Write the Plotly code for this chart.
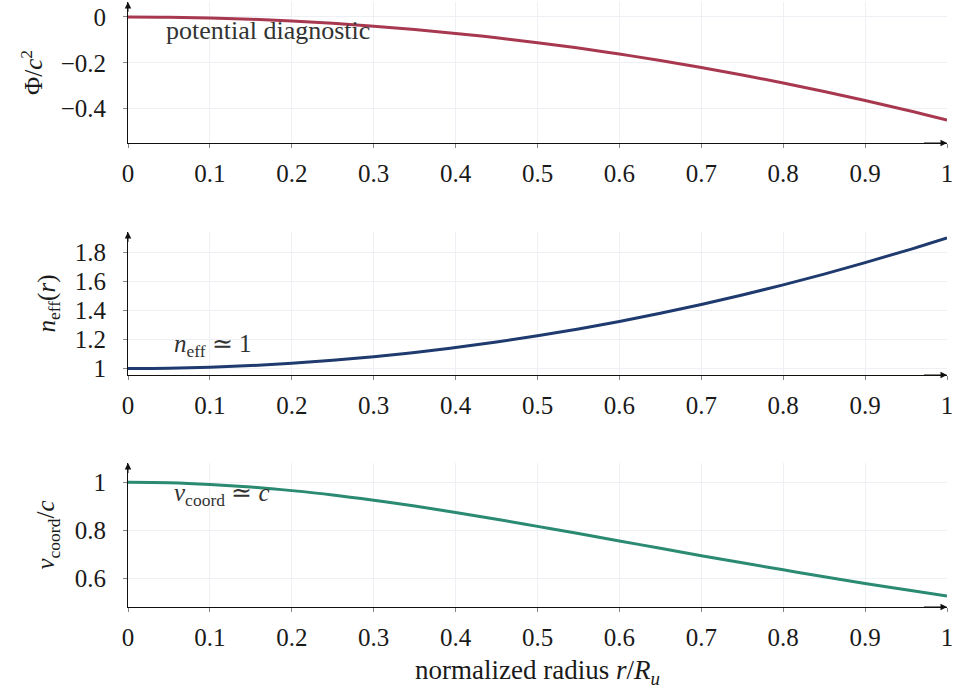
import plotly.graph_objects as go
from plotly.subplots import make_subplots

r = [0, 0.05, 0.1, 0.15, 0.2, 0.25, 0.3, 0.35, 0.4, 0.45, 0.5,
     0.55, 0.6, 0.65, 0.7, 0.75, 0.8, 0.85, 0.9, 0.95, 1.0]
phi = [0, -0.001, -0.0045, -0.010, -0.018, -0.028, -0.0405, -0.055, -0.072, -0.091, -0.1125,
       -0.136, -0.162, -0.190, -0.2205, -0.253, -0.288, -0.325, -0.3645, -0.406, -0.45]
n_eff = [1.0, 1.002, 1.009, 1.020, 1.036, 1.056, 1.081, 1.110, 1.144, 1.182, 1.225,
         1.272, 1.324, 1.380, 1.441, 1.506, 1.576, 1.650, 1.729, 1.812, 1.900]
v_coord = [1.0, 0.998, 0.991, 0.980, 0.965, 0.947, 0.925, 0.901, 0.874, 0.846, 0.816,
           0.786, 0.755, 0.725, 0.694, 0.664, 0.635, 0.606, 0.578, 0.552, 0.526]

x_ticks = [0, 0.1, 0.2, 0.3, 0.4, 0.5, 0.6, 0.7, 0.8, 0.9, 1]
x_ticktext = ["0", "0.1", "0.2", "0.3", "0.4", "0.5", "0.6", "0.7", "0.8", "0.9", "1"]
phi_ticks = [0, -0.2, -0.4]
phi_ticktext = ["0", "\u22120.2", "\u22120.4"]
n_ticks = [1, 1.2, 1.4, 1.6, 1.8]
n_ticktext = ["1", "1.2", "1.4", "1.6", "1.8"]
v_ticks = [0.6, 0.8, 1]
v_ticktext = ["0.6", "0.8", "1"]

FONT = "Liberation Serif"
GRID = "#eef0f5"
TXT = "#1a1a1a"

fig = make_subplots(rows=3, cols=1)
fig.add_trace(go.Scatter(x=r, y=phi, mode="lines", line=dict(color="#a8384f", width=3, shape="spline")), row=1, col=1)
fig.add_trace(go.Scatter(x=r, y=n_eff, mode="lines", line=dict(color="#1f3a6e", width=3, shape="spline")), row=2, col=1)
fig.add_trace(go.Scatter(x=r, y=v_coord, mode="lines", line=dict(color="#2a8a72", width=3, shape="spline")), row=3, col=1)

ranges = [[-0.55, 0.065], [0.955, 1.94], [0.48, 1.08]]
domains = [[0.7644, 0.9967], [0.3822, 0.6178], [0.0, 0.2372]]
yticks = [(phi_ticks, phi_ticktext), (n_ticks, n_ticktext), (v_ticks, v_ticktext)]
ytitles = ["\u03a6/<i>c</i><sup>2</sup>", "<i>n</i><sub>eff</sub>(<i>r</i>)", "<i>v</i><sub>coord</sub>/<i>c</i>"]
ystandoff = [10, 12, 12]

for i in range(3):
    xa = "xaxis" if i == 0 else f"xaxis{i+1}"
    ya = "yaxis" if i == 0 else f"yaxis{i+1}"
    fig.layout[xa].update(range=[0, 1], tickvals=x_ticks, ticktext=x_ticktext, automargin=False,
                          showgrid=True, gridcolor=GRID, gridwidth=1,
                          showline=True, linecolor="#111", linewidth=1,
                          ticks="outside", ticklen=4, tickcolor="#888", ticklabelstandoff=4,
                          zeroline=False, tickfont=dict(family=FONT, size=25, color=TXT))
    fig.layout[ya].update(range=ranges[i], domain=domains[i], automargin=False,
                          tickvals=yticks[i][0], ticktext=yticks[i][1],
                          showgrid=True, gridcolor=GRID, gridwidth=1,
                          showline=True, linecolor="#111", linewidth=1,
                          ticks="outside", ticklen=4, tickcolor="#888", ticklabelstandoff=12,
                          zeroline=False, tickfont=dict(family=FONT, size=25, color=TXT),
                          title=dict(text=ytitles[i], font=dict(family=FONT, size=25, color=TXT), standoff=ystandoff[i]))
    xr = "x" if i == 0 else f"x{i+1}"
    yr = "y" if i == 0 else f"y{i+1}"
    y0, y1 = ranges[i]
    fig.add_annotation(x=1, y=y0, xref=xr, yref=yr, ax=0.97, ay=y0, axref=xr, ayref=yr,
                       showarrow=True, arrowhead=2, arrowsize=1.3, arrowwidth=1, arrowcolor="#111", text="")
    dy = (y1 - y0) * 0.08
    fig.add_annotation(x=0, y=y1, xref=xr, yref=yr, ax=0, ay=y1 - dy, axref=xr, ayref=yr,
                       showarrow=True, arrowhead=2, arrowsize=1.3, arrowwidth=1, arrowcolor="#111", text="")

fig.layout.xaxis3.title = dict(text="normalized radius <i>r</i>/<i>R<sub>u</sub></i>",
                               font=dict(family=FONT, size=27, color=TXT), standoff=10)

fig.add_annotation(x=0.044, y=-0.06, xref="x", yref="y", text="potential diagnostic",
                   showarrow=False, xanchor="left", font=dict(family=FONT, size=26, color="#333"))
fig.add_annotation(x=0.054, y=1.16, xref="x2", yref="y2", text="<i>n</i><sub>eff</sub> \u2243 1",
                   showarrow=False, xanchor="left", font=dict(family=FONT, size=25, color="#333"))
fig.add_annotation(x=0.054, y=0.95, xref="x3", yref="y3", text="<i>v</i><sub>coord</sub> \u2243 <i>c</i>",
                   showarrow=False, xanchor="left", font=dict(family=FONT, size=25, color="#333"))

fig.update_layout(width=954, height=693, showlegend=False,
                  margin=dict(l=128, r=7, t=0, b=86, autoexpand=False),
                  plot_bgcolor="white", paper_bgcolor="white",
                  font=dict(family=FONT, color=TXT))
fig.write_html("out.html", config={"displayModeBar": False},
               post_script="document.body.style.margin='0';")
